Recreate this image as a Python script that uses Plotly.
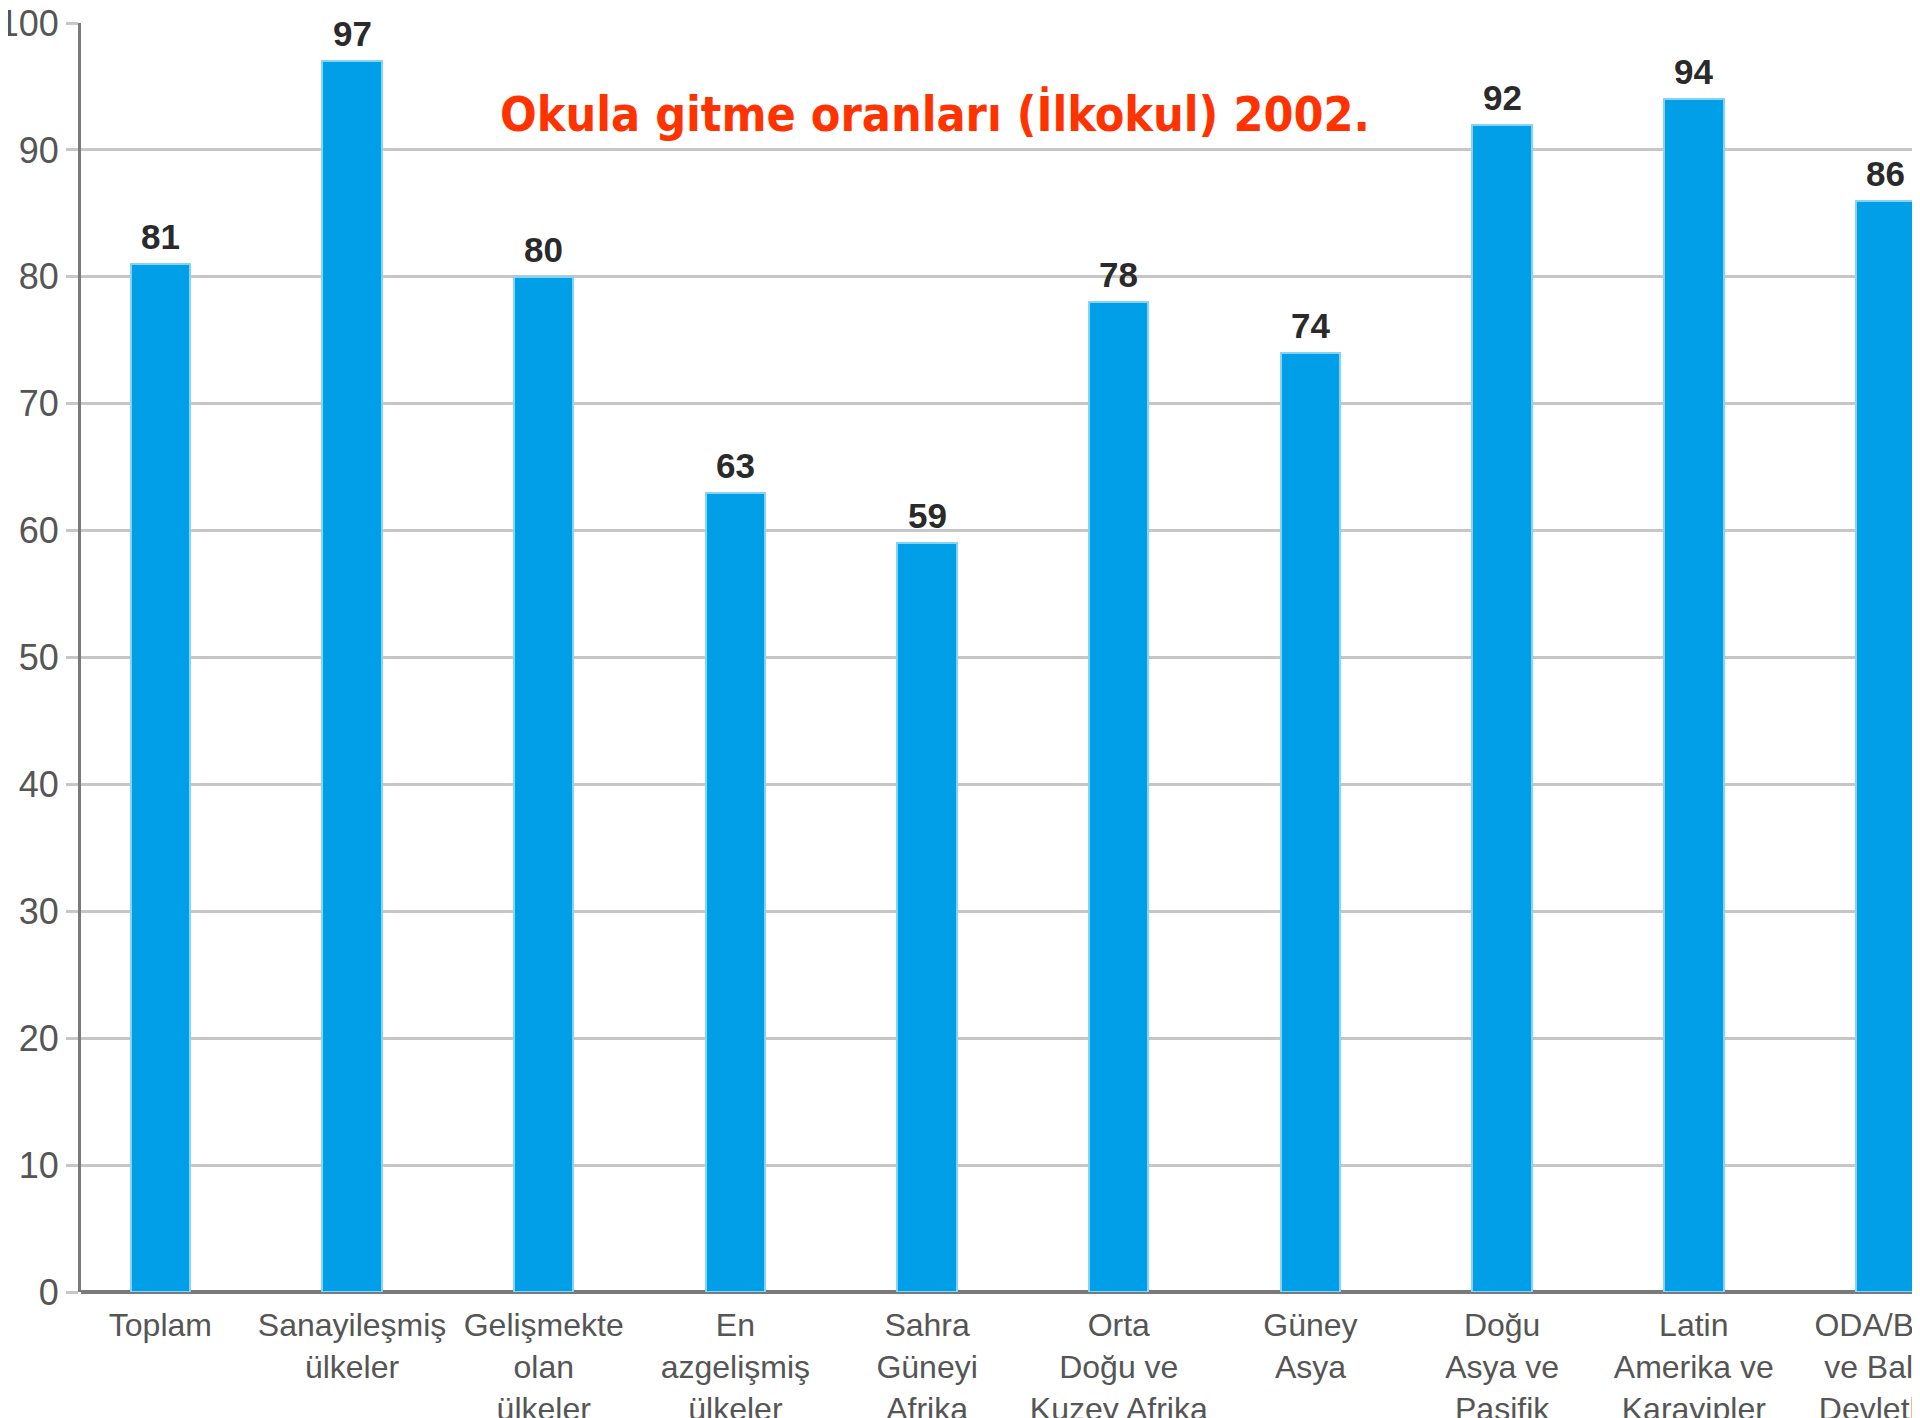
import plotly.graph_objects as go

categories = [
    "Toplam",
    "Sanayileşmiş<br>ülkeler",
    "Gelişmekte<br>olan<br>ülkeler",
    "En<br>azgelişmiş<br>ülkeler",
    "Sahra<br>Güneyi<br>Afrika",
    "Orta<br>Doğu ve<br>Kuzey Afrika",
    "Güney<br>Asya",
    "Doğu<br>Asya ve<br>Pasifik",
    "Latin<br>Amerika ve<br>Karayipler",
    "ODA/BDT<br>ve Baltık<br>Devletleri",
]
values = [81, 97, 80, 63, 59, 78, 74, 92, 94, 86]
y_ticks = [0, 10, 20, 30, 40, 50, 60, 70, 80, 90, 100]
title_text = "Okula gitme oranları (İlkokul) 2002."

idx = list(range(len(categories)))

fig = go.Figure()
fig.add_trace(go.Bar(
    x=idx,
    y=values,
    width=0.31,
    marker=dict(color="#009fe8", line=dict(color="#86d3f7", width=2)),
    cliponaxis=False,
    hoverinfo="skip",
))

for i, v in zip(idx, values):
    fig.add_annotation(
        x=i, y=v, xref="x", yref="y",
        text=str(v), showarrow=False,
        yanchor="bottom", yshift=6,
        font=dict(family="Liberation Sans, Arial, sans-serif", size=35, color="#2a2a2a", weight="bold"),
    )

fig.update_layout(
    width=1920, height=1418,
    paper_bgcolor="white", plot_bgcolor="white",
    margin=dict(l=73, r=8, t=15, b=134),
    showlegend=False,
    bargap=0,
    title=dict(
        text=title_text,
        xref="container", yref="container",
        x=927 / 1920, y=1 - 106 / 1418,
        xanchor="center", yanchor="middle",
        font=dict(family="DejaVu Sans Condensed, DejaVu Sans, sans-serif", size=48, color="#ff3300", weight="bold"),
    ),
)

fig.update_xaxes(
    range=[-0.414, 9.18],
    tickmode="array", tickvals=idx, ticktext=categories,
    tickfont=dict(family="Liberation Sans, Arial, sans-serif", size=32, color="#555555"),
    showgrid=False, showline=False,
    ticks="outside", ticklen=5, tickcolor="rgba(0,0,0,0)",
    automargin=False, tickangle=0,
    ticklabeloverflow="allow",
)

fig.update_yaxes(
    range=[0, 100],
    tickmode="array", tickvals=y_ticks,
    tickfont=dict(family="Liberation Sans, Arial, sans-serif", size=36, color="#555555"),
    showgrid=True, gridcolor="#c6c6c6", gridwidth=3,
    zeroline=True, zerolinecolor="#7a7a7a", zerolinewidth=4,
    showline=True, linecolor="#7a7a7a", linewidth=3,
    ticks="outside", ticklen=12, tickcolor="#c6c6c6", tickwidth=3,
    automargin=False,
    ticklabeloverflow="allow",
)

fig.write_html("out.html")
